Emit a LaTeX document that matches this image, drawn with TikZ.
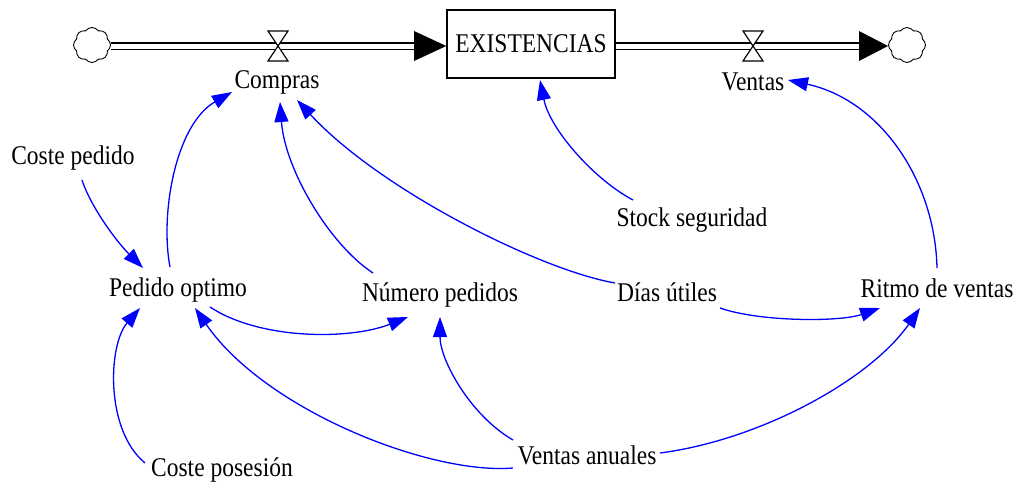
\documentclass[tikz,border=0pt]{standalone}
\usepackage{fontspec}
\setmainfont{Liberation Serif}
\usetikzlibrary{arrows.meta,shapes.symbols}
\newcommand{\Tx}[1]{\scalebox{1}[1.15]{#1}}
\begin{document}
\begin{tikzpicture}[x=1pt,y=-1pt,
  lbl/.style={font=\fontsize{23.5}{26}\selectfont, inner sep=0pt},
  link/.style={draw=blue, line width=1.3pt, -{Triangle[length=20pt,width=14pt]}},
  pipe/.style={double, double distance=5pt, line width=1.6pt},
  cloudsh/.style={cloud, cloud puffs=8, cloud puff arc=110, draw, line width=0.9pt, minimum width=37pt, minimum height=35pt, inner sep=0pt},
  valvesh/.style={draw, fill=white, line width=1.2pt, line join=miter},
  stockbox/.style={draw, line width=1.3pt, minimum width=168pt, minimum height=68pt, inner sep=0pt, font=\fontsize{23.5}{26}\selectfont}]
\useasboundingbox (0,0) rectangle (1015,488);

% stock and flows
\node[cloudsh] (cL) at (92,45) {};
\node[cloudsh] (cR) at (907,45) {};
\node[stockbox] (stock) at (531,44) {\Tx{EXISTENCIAS}};
\coordinate (vC) at (278,46);
\coordinate (vV) at (753,46);
\coordinate (aL) at (414,46);
\coordinate (aR) at (859,46);

\draw[pipe] (cL.east |- aL) -- (aL);
\fill (aL) ++(0,-15) -- ++(0,30) -- (stock.west |- aL) -- cycle;
\draw[pipe] (stock.east |- aL) -- (aR);
\fill (aR) ++(0,-15) -- ++(0,30) -- (cR.west |- aR) -- cycle;

\filldraw[valvesh] (vC) ++(-10,-15) -- ++(20,0) -- ++(-20,30) -- ++(20,0) -- cycle;
\filldraw[valvesh] (vV) ++(-10,-15) -- ++(20,0) -- ++(-20,30) -- ++(20,0) -- cycle;

% labels
\node[lbl] (compras) at (277,82) {\Tx{Compras}};
\node[lbl] (ventas) at (753,82) {\Tx{Ventas}};
\node[lbl] (cped) at (73,158) {\Tx{Coste pedido}};
\node[lbl] (sseg) at (692,220) {\Tx{Stock seguridad}};
\node[lbl] (ped) at (178,290) {\Tx{Pedido optimo}};
\node[lbl] (num) at (440,295) {\Tx{Número pedidos}};
\node[lbl] (dias) at (667,292) {\Tx{Días útiles}};
\node[lbl] (ritmo) at (937,288) {\Tx{Ritmo de ventas}};
\node[lbl] (vanu) at (587,455) {\Tx{Ventas anuales}};
\node[lbl] (cpos) at (222,470) {\Tx{Coste posesión}};

% links
\draw[link] ([shift={(9,22)}]cped.center) .. controls (90,205) and (115,240) .. ([shift={(-35,-22)}]ped.center);
\draw[link] ([shift={(-8,-23)}]ped.center) .. controls (160,215) and (175,125) .. ([shift={(-45,10)}]compras.center);
\draw[link] ([shift={(-67,-22)}]num.center) .. controls (330,245) and (285,170) .. ([shift={(3,20)}]compras.center);
\draw[link] ([shift={(-52,-9)}]dias.center) .. controls (540,270) and (380,190) .. ([shift={(20,18)}]compras.center);
\draw[link] ([shift={(-59,-20)}]sseg.center) .. controls (595,180) and (550,130) .. ([shift={(9,36)}]stock.center);
\draw[link] ([shift={(0,-20)}]ritmo.center) .. controls (935,180) and (880,100) .. ([shift={(35,-2)}]ventas.center);
\draw[link] ([shift={(53,16)}]dias.center) .. controls (760,322) and (840,322) .. ([shift={(-57,20)}]ritmo.center);
\draw[link] ([shift={(32,17)}]ped.center) .. controls (260,340) and (350,340) .. ([shift={(-32,22)}]num.center);
\draw[link] ([shift={(-74,-15)}]vanu.center) .. controls (470,415) and (440,360) .. ([shift={(0,22)}]num.center);
\draw[link] ([shift={(-74,13)}]vanu.center) .. controls (430,475) and (265,410) .. ([shift={(17,18)}]ped.center);
\draw[link] ([shift={(73,-2)}]vanu.center) .. controls (760,440) and (870,380) .. ([shift={(-17,20)}]ritmo.center);
\draw[link] ([shift={(-77,-7)}]cpos.center) .. controls (105,430) and (108,345) .. ([shift={(-38,18)}]ped.center);
\end{tikzpicture}
\end{document}
